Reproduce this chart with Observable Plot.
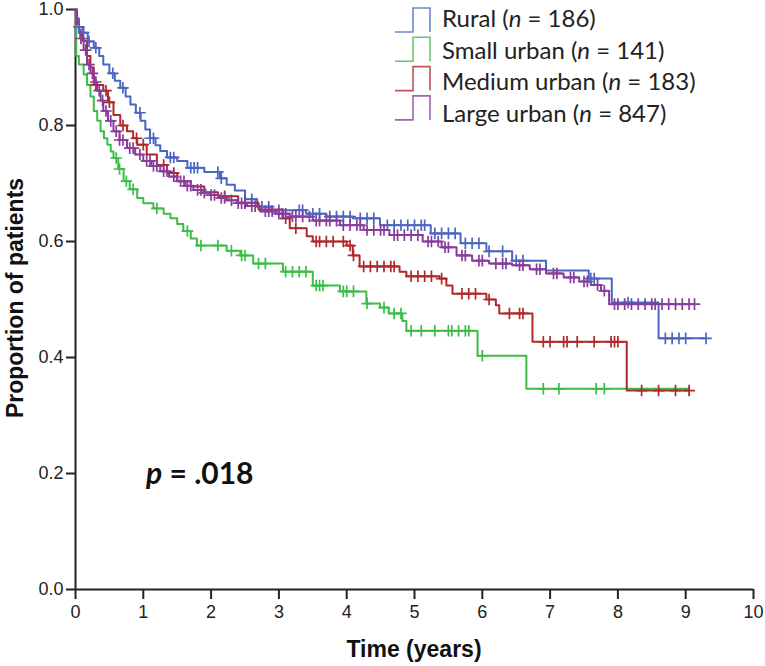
<!DOCTYPE html>
<html>
<head>
<meta charset="utf-8">
<script src="https://cdn.jsdelivr.net/npm/d3@7"></script>
<script src="https://cdn.jsdelivr.net/npm/@observablehq/plot@0.6"></script>
<style>
  html, body { margin: 0; padding: 0; background: #fff; }
  #chart { position: relative; width: 765px; height: 666px; }
</style>
</head>
<body>
<div id="chart"></div>
<script>
// ---------- data ----------
const seriesNames = ["Rural", "Small urban", "Medium urban", "Large urban"];
const seriesN = [186, 141, 183, 847];
const seriesColors = ["#4a66c0", "#3dbd48", "#b0282a", "#883c9c"];

const xTicks = [0, 1, 2, 3, 4, 5, 6, 7, 8, 9, 10];
const yTicks = [0, 0.2, 0.4, 0.6, 0.8, 1.0];

// Rural
const ruralTime = [0, 0.02, 0.05, 0.1, 0.18, 0.27, 0.35, 0.41, 0.5, 0.58, 0.66, 0.74, 0.81, 0.89, 0.96, 1.03, 1.1, 1.18, 1.25, 1.35, 1.5, 1.65, 1.9, 2.13, 2.23, 2.35, 2.5, 2.68, 2.9, 3.4, 3.7, 4.09, 4.49, 5.24, 5.68, 6.06, 6.44, 6.94, 7.57, 7.91, 8.6, 9.3];
const ruralSurv = [1.0, 0.985, 0.97, 0.96, 0.945, 0.934, 0.92, 0.905, 0.89, 0.877, 0.865, 0.85, 0.836, 0.822, 0.808, 0.793, 0.778, 0.766, 0.756, 0.745, 0.739, 0.727, 0.72, 0.709, 0.698, 0.688, 0.673, 0.66, 0.654, 0.648, 0.643, 0.64, 0.628, 0.614, 0.597, 0.583, 0.567, 0.55, 0.536, 0.495, 0.433, 0.433];
const ruralCensor = [0.05, 0.12, 0.2, 0.3, 0.55, 0.7, 0.95, 1.1, 1.15, 1.4, 1.45, 1.7, 1.75, 1.8, 2.1, 2.15, 2.6, 2.75, 2.85, 3.0, 3.3, 3.35, 3.5, 3.6, 3.75, 3.85, 3.95, 4.05, 4.2, 4.3, 4.4, 4.6, 4.7, 4.8, 4.9, 5.0, 5.1, 5.15, 5.3, 5.4, 5.5, 5.6, 5.75, 5.85, 5.95, 6.1, 6.3, 6.5, 6.6, 7.6, 7.65, 8.15, 8.7, 8.8, 8.9, 9.0, 9.3];

// Small urban
const smallTime = [0, 0.01, 0.05, 0.12, 0.17, 0.22, 0.27, 0.32, 0.37, 0.42, 0.47, 0.52, 0.56, 0.63, 0.71, 0.8, 0.91, 1.0, 1.15, 1.3, 1.4, 1.5, 1.59, 1.7, 1.79, 2.23, 2.43, 2.62, 3.06, 3.5, 3.9, 4.29, 4.49, 4.62, 4.82, 4.88, 5.93, 6.65, 9.05];
const smallSurv = [1.0, 0.92, 0.905, 0.888, 0.87, 0.85, 0.825, 0.808, 0.79, 0.778, 0.767, 0.755, 0.744, 0.725, 0.704, 0.69, 0.675, 0.666, 0.657, 0.648, 0.64, 0.63, 0.618, 0.605, 0.593, 0.584, 0.576, 0.562, 0.548, 0.524, 0.514, 0.493, 0.486, 0.476, 0.463, 0.446, 0.403, 0.346, 0.346];
const smallCensor = [0.6, 0.65, 0.75, 0.85, 1.2, 1.65, 1.85, 2.1, 2.3, 2.45, 2.5, 2.7, 2.8, 3.1, 3.2, 3.3, 3.4, 3.55, 3.6, 3.65, 3.95, 4.0, 4.1, 4.3, 4.55, 4.7, 4.8, 4.95, 5.1, 5.3, 5.5, 5.55, 5.65, 5.75, 5.8, 6.0, 6.9, 7.13, 7.68, 7.8];

// Medium urban
const mediumTime = [0, 0.02, 0.05, 0.1, 0.17, 0.22, 0.27, 0.41, 0.48, 0.56, 0.66, 0.76, 0.85, 0.91, 1.05, 1.2, 1.35, 1.5, 1.7, 1.9, 2.1, 2.4, 2.7, 3.06, 3.16, 3.41, 3.5, 4.0, 4.09, 4.19, 4.78, 4.88, 5.37, 5.47, 5.56, 6.06, 6.2, 6.25, 6.74, 8.13, 9.05];
const mediumSurv = [1.0, 0.975, 0.96, 0.946, 0.92, 0.9, 0.87, 0.86, 0.84, 0.818, 0.8, 0.79, 0.778, 0.767, 0.75, 0.732, 0.718, 0.704, 0.695, 0.685, 0.678, 0.667, 0.655, 0.64, 0.623, 0.609, 0.6, 0.593, 0.576, 0.557, 0.548, 0.54, 0.536, 0.524, 0.51, 0.5, 0.49, 0.476, 0.427, 0.343, 0.343];
const mediumCensor = [0.3, 0.45, 0.5, 0.7, 0.9, 1.0, 1.3, 1.45, 2.2, 2.5, 3.1, 3.25, 3.55, 3.6, 3.7, 3.8, 3.95, 4.05, 4.1, 4.25, 4.35, 4.45, 4.55, 4.65, 4.7, 4.95, 5.05, 5.15, 5.25, 5.4, 5.7, 5.8, 5.9, 6.1, 6.4, 6.55, 6.6, 6.9, 7.0, 7.2, 7.25, 7.4, 7.65, 7.9, 7.95, 8.0, 8.35, 8.6, 8.85, 9.05];

// Large urban
const largeTime = [0, 0.02, 0.05, 0.07, 0.12, 0.17, 0.22, 0.27, 0.32, 0.37, 0.41, 0.48, 0.56, 0.65, 0.76, 0.88, 1.0, 1.12, 1.25, 1.38, 1.5, 1.62, 1.74, 1.86, 1.99, 2.1, 2.23, 2.38, 2.53, 2.72, 2.95, 3.16, 3.5, 3.9, 4.25, 4.63, 5.12, 5.4, 5.62, 5.85, 6.1, 6.44, 6.7, 6.94, 7.2, 7.43, 7.6, 7.75, 7.87, 9.13];
const largeSurv = [1.0, 0.98, 0.965, 0.95, 0.93, 0.905, 0.89, 0.875, 0.86, 0.843, 0.825, 0.808, 0.79, 0.775, 0.761, 0.75, 0.739, 0.73, 0.721, 0.712, 0.704, 0.696, 0.689, 0.684, 0.68, 0.675, 0.671, 0.666, 0.661, 0.652, 0.648, 0.643, 0.636, 0.628, 0.62, 0.611, 0.6, 0.59, 0.576, 0.567, 0.562, 0.559, 0.552, 0.545, 0.538, 0.531, 0.525, 0.515, 0.492, 0.492];
const largeCensor = [0.08, 0.15, 0.2, 0.25, 0.3, 0.35, 0.4, 0.45, 0.52, 0.6, 0.65, 0.7, 0.8, 0.85, 0.95, 1.05, 1.1, 1.15, 1.2, 1.3, 1.35, 1.45, 1.55, 1.6, 1.65, 1.7, 1.8, 1.85, 1.9, 2.0, 2.05, 2.15, 2.2, 2.3, 2.4, 2.45, 2.5, 2.6, 2.65, 2.8, 2.85, 2.9, 3.0, 3.05, 3.1, 3.2, 3.25, 3.35, 3.45, 3.55, 3.6, 3.7, 3.75, 3.85, 3.95, 4.05, 4.15, 4.2, 4.3, 4.4, 4.5, 4.55, 4.7, 4.75, 4.85, 4.95, 5.05, 5.2, 5.25, 5.35, 5.45, 5.5, 5.7, 5.75, 5.95, 6.0, 6.2, 6.3, 6.35, 6.55, 6.6, 6.8, 6.85, 7.05, 7.1, 7.3, 7.35, 7.5, 7.55, 7.7, 7.8, 7.95, 8.0, 8.1, 8.2, 8.3, 8.4, 8.5, 8.55, 8.65, 8.75, 8.85, 8.95, 9.05, 9.13];

const pValueText = ".018";

// ---------- build tables ----------
const seriesTimes = [ruralTime, smallTime, mediumTime, largeTime];
const seriesSurvs = [ruralSurv, smallSurv, mediumSurv, largeSurv];
const seriesCensors = [ruralCensor, smallCensor, mediumCensor, largeCensor];

function survAt(times, survs, t) {
  let v = survs[0];
  for (let i = 0; i < times.length; i++) { if (times[i] <= t) v = survs[i]; else break; }
  return v;
}

const drawOrder = [1, 0, 2, 3]; // green, blue, red, purple
const stepRows = [];
const censorRows = [];
for (const k of drawOrder) {
  seriesTimes[k].forEach((t, i) => stepRows.push({group: seriesNames[k], t, s: seriesSurvs[k][i]}));
  seriesCensors[k].forEach(t => censorRows.push({group: seriesNames[k], t, s: survAt(seriesTimes[k], seriesSurvs[k], t)}));
}

const colorScale = {domain: seriesNames, range: seriesColors};

const plot = Plot.plot({
  width: 765,
  height: 666,
  marginLeft: 75,
  marginRight: 12,
  marginTop: 9,
  marginBottom: 77,
  style: {fontFamily: "'Liberation Sans', Arial, sans-serif", fontSize: "18px", color: "#222", background: "#fff"},
  x: {domain: [0, 10]},
  y: {domain: [0, 1]},
  color: colorScale,
  marks: [
    Plot.axisX({ticks: xTicks, tickSize: 10, tickPadding: 6, strokeWidth: 2, stroke: "#222", label: null, fontSize: 18, tickFormat: d3.format("d")}),
    Plot.axisY({ticks: yTicks, tickSize: 9, tickPadding: 3, strokeWidth: 2, stroke: "#222", label: null, fontSize: 18, tickFormat: d3.format(".1f")}),
    Plot.ruleY([0], {stroke: "#222", strokeWidth: 2}),
    Plot.ruleX([0], {stroke: "#222", strokeWidth: 2}),
    ...drawOrder.map(k => Plot.line(stepRows.filter(r => r.group === seriesNames[k]), {
      x: "t", y: "s", stroke: "group", curve: "step-after", strokeWidth: 2
    })),
    ...drawOrder.map(k => Plot.dot(censorRows.filter(r => r.group === seriesNames[k]), {
      x: "t", y: "s", stroke: "group", symbol: "plus", r: 3.8, strokeWidth: 1.7
    }))
  ]
});

document.getElementById("chart").appendChild(plot);

// ---------- annotations, axis titles, legend ----------
const svg = d3.select(plot);
const NS = "'Liberation Sans', Arial, sans-serif";

svg.append("text")
  .attr("transform", "translate(23,298) rotate(-90)")
  .attr("text-anchor", "middle")
  .style("font-family", NS).style("font-weight", "bold").style("font-size", "23px").style("fill", "#111")
  .text("Proportion of patients");

svg.append("text")
  .attr("x", 414).attr("y", 657)
  .attr("text-anchor", "middle")
  .style("font-family", NS).style("font-weight", "bold").style("font-size", "23px").style("fill", "#111")
  .text("Time (years)");

const pt = svg.append("text")
  .attr("x", 146).attr("y", 484)
  .attr("text-anchor", "start")
  .style("font-family", "Lato, 'Open Sans', sans-serif").style("font-weight", "bold").style("font-size", "30px").style("fill", "#111");
pt.append("tspan").style("font-style", "italic").text("p");
pt.append("tspan").text(" = " + pValueText);

const lg = svg.append("g").attr("text-anchor", "start");
seriesNames.forEach((name, i) => {
  const top = 8 + i * 29.3, bot = top + 24;
  lg.append("path")
    .attr("d", `M395,${bot}H413V${top}H430V${bot}`)
    .attr("fill", "none").attr("stroke", seriesColors[i]).attr("stroke-width", 1.6).attr("stroke-opacity", 0.8);
  const tx = lg.append("text")
    .attr("x", 442).attr("y", 27 + i * 31.7)
    .attr("text-anchor", "start")
    .style("font-family", "Lato, 'Open Sans', sans-serif").style("font-size", "24px").style("fill", "#222");
  tx.append("tspan").text(name + " (");
  tx.append("tspan").style("font-style", "italic").text("n");
  tx.append("tspan").text(" = " + seriesN[i] + ")");
});
</script>
</body>
</html>
